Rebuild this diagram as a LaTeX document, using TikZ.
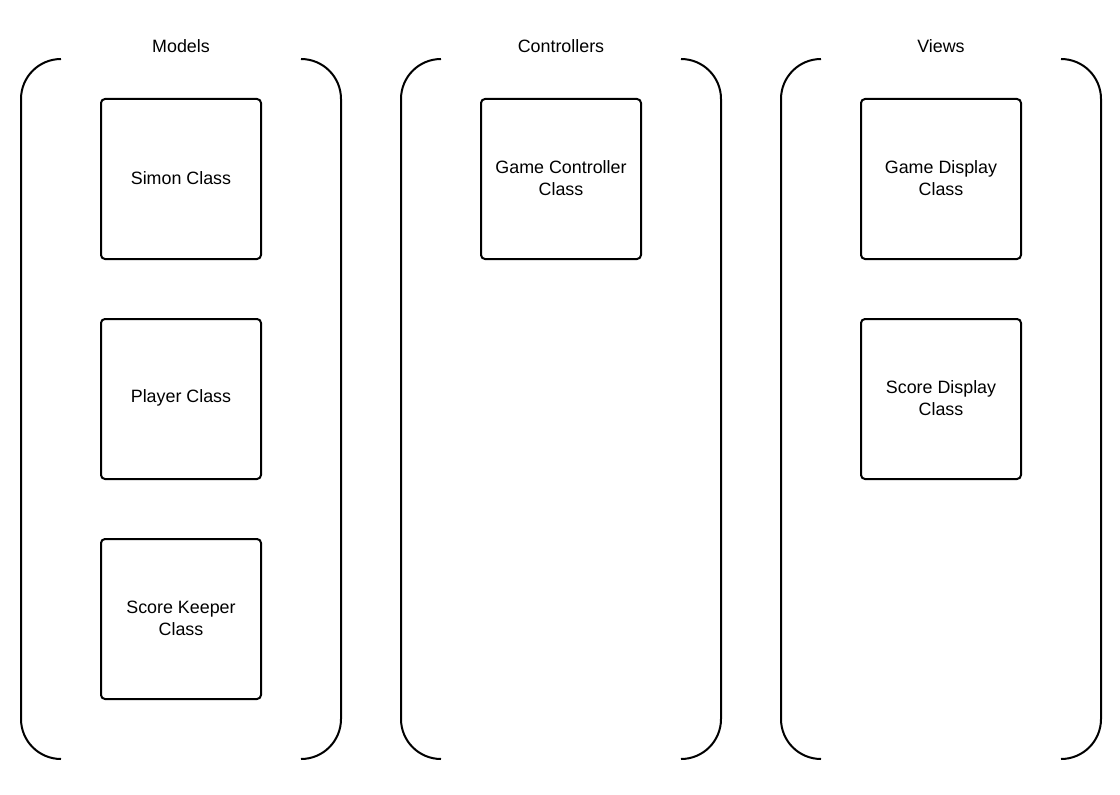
\documentclass[tikz,border=0pt]{standalone}
\usepackage{fontspec}
\setmainfont{Liberation Sans}
\begin{document}
\begin{tikzpicture}[x=0.75pt,y=-0.75pt,
  cls/.style={draw,line width=1.5pt,rounded corners=3pt,minimum width=160*0.75pt,minimum height=160*0.75pt,inner sep=0pt},
  lbl/.style={align=center,font=\fontsize{13.4}{16.5}\selectfont,inner sep=0pt},
  ttl/.style={font=\fontsize{13.4}{16}\selectfont},
  brk/.style={line width=1.5pt}]
\useasboundingbox (0,0) rectangle (1120,795);
\foreach \x in {1,381,761}{
  \draw[brk] (\x+60,59) arc[start angle=90,end angle=180,radius=40*0.75pt] -- (\x+20,719) arc[start angle=180,end angle=270,radius=40*0.75pt];
  \draw[brk] (\x+300,59) arc[start angle=90,end angle=0,radius=40*0.75pt] -- (\x+340,719) arc[start angle=0,end angle=-90,radius=40*0.75pt];
}
\node[ttl] (tm) at (181,46) {Models};
\node[ttl] (tc) at (561,46) {Controllers};
\node[ttl] (tv) at (941,46) {Views};
\node[cls] (simon) at (181,179) {};
\node[lbl] (simonL) at ([yshift=0.6pt]simon.center) {Simon Class};
\node[cls] (player) at (181,399) {};
\node[lbl] (playerL) at ([yshift=0.6pt]player.center) {Player Class};
\node[cls] (keeper) at (181,619) {};
\node[lbl] (keeperL) at ([yshift=0.6pt]keeper.center) {Score Keeper\\Class};
\node[cls] (gc) at (561,179) {};
\node[lbl] (gcL) at ([yshift=0.6pt]gc.center) {Game Controller\\Class};
\node[cls] (gd) at (941,179) {};
\node[lbl] (gdL) at ([yshift=0.6pt]gd.center) {Game Display\\Class};
\node[cls] (sd) at (941,399) {};
\node[lbl] (sdL) at ([yshift=0.6pt]sd.center) {Score Display\\Class};
\end{tikzpicture}
\end{document}
